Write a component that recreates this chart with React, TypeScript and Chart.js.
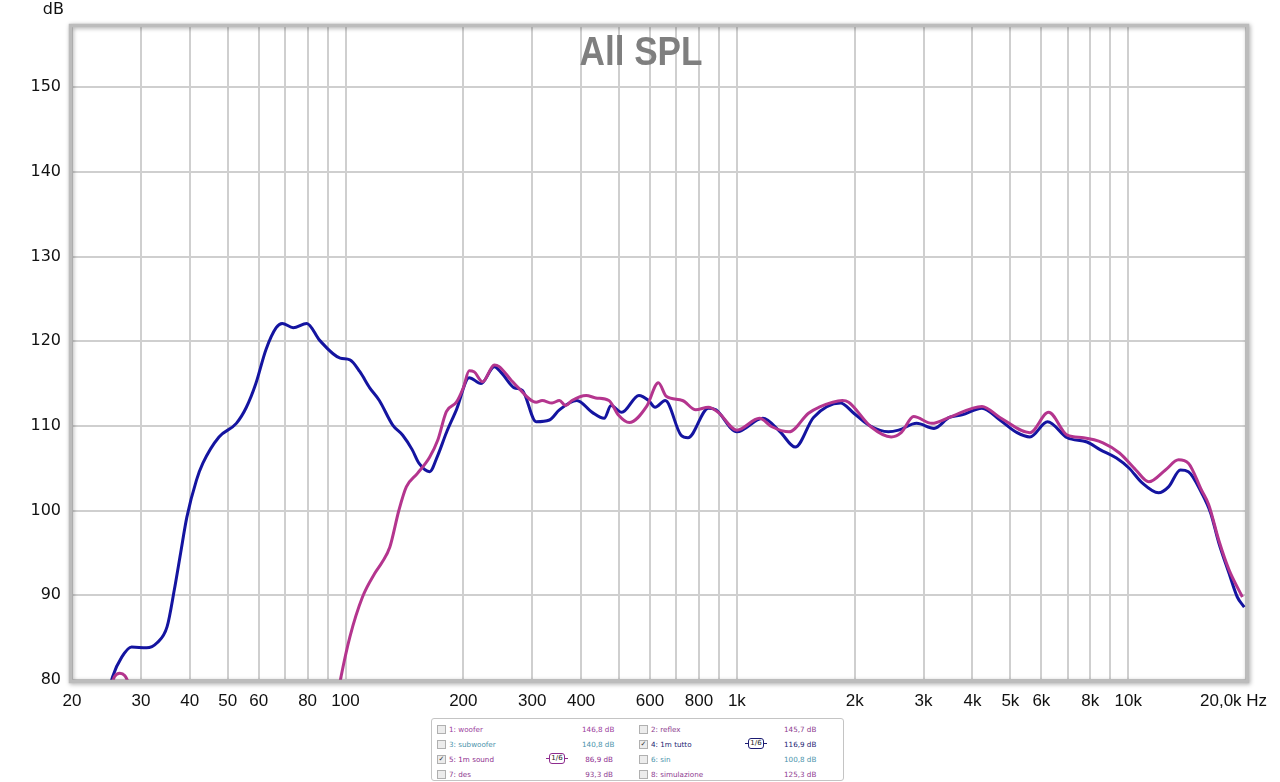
import React, { useEffect, useRef } from "react";
import { Chart, registerables } from "chart.js";

Chart.register(...registerables);

// ---- data ----
const blueFreq = [24.5, 25.4, 26.8, 28.4, 31, 33, 35, 36.5, 37.9, 39.3, 41.6, 43.2, 47.5, 52.6, 55.8, 59, 62.6, 66.5, 68.9, 73.5, 79.6, 85.9, 96.9, 102.6, 108.8, 115.3, 122, 132, 140, 148, 154, 164, 172, 181, 192, 207, 222, 240, 251, 270, 283, 307, 332, 352, 390, 427, 458, 477, 508, 562, 595, 618, 656, 720, 750, 846, 884, 1000, 1165, 1290, 1410, 1570, 1840, 1990, 2170, 2440, 2590, 2880, 3190, 3490, 3760, 4230, 4700, 5200, 5610, 6220, 6990, 7850, 8470, 9330, 10060, 10840, 11950, 12680, 13600, 14250, 15400, 16250, 17040, 18100, 19000, 19800];
const blueDb = [77.5, 80.4, 82.7, 83.9, 83.8, 84.4, 86.3, 90.6, 95, 99.2, 103.6, 105.6, 108.7, 110.3, 112.2, 115, 119, 121.6, 122.1, 121.6, 122.1, 120.1, 118, 117.8, 116.4, 114.5, 113, 110.1, 108.9, 107.2, 105.6, 104.6, 106.5, 109.2, 111.9, 115.7, 115, 117, 116.2, 114.5, 114.2, 110.5, 110.7, 111.9, 113, 111.6, 110.9, 112.4, 111.6, 113.6, 113, 112.2, 113, 108.9, 108.6, 112.1, 111.9, 109.3, 110.9, 109.3, 107.5, 111, 112.7, 111.5, 110.1, 109.3, 109.5, 110.3, 109.7, 111, 111.3, 112.1, 110.7, 109.2, 108.7, 110.5, 108.6, 108.1, 107.2, 106.2, 105, 103.3, 102.1, 102.8, 104.8, 104.6, 102.1, 99.7, 96.2, 92.6, 89.8, 88.6];

const magFreq = [25.0, 25.7, 26.5, 27.3, 27.8, 28.6, 50, 95.5, 97.4, 102.6, 110.5, 118.8, 124, 129.8, 137, 143, 152.7, 164, 172, 181, 192, 200, 207, 213, 224, 240, 247, 265, 275, 307, 318, 337, 352, 365, 379, 412, 436, 471, 498, 531, 588, 630, 660, 726, 785, 846, 896, 1000, 1142, 1229, 1360, 1524, 1620, 1860, 1930, 2200, 2480, 2630, 2830, 3150, 3490, 4230, 4700, 5610, 6260, 6990, 7690, 8620, 9500, 10460, 11290, 12450, 13450, 14250, 15400, 16060, 17040, 18100, 19580];
const magDb = [78.8, 80.4, 80.8, 80.5, 79.8, 78.2, null, 78.2, 80.4, 85.1, 89.8, 92.6, 93.9, 95.7, 100.1, 102.8, 104.4, 106.3, 108.3, 111.7, 112.8, 114.5, 116.5, 116.4, 115.2, 117.2, 117, 115.4, 114.6, 112.8, 113, 112.7, 113, 112.4, 113, 113.6, 113.3, 113, 111.3, 110.4, 112.3, 115.1, 113.5, 113, 111.9, 112.2, 111.6, 109.5, 110.9, 109.9, 109.3, 111.5, 112.2, 113, 112.8, 109.9, 108.7, 109.2, 111.1, 110.3, 111, 112.3, 111, 109.2, 111.6, 108.9, 108.6, 108, 106.8, 104.8, 103.4, 104.8, 106, 105.6, 102.4, 100.7, 96.5, 93, 89.8];

const yTicks = [80, 90, 100, 110, 120, 130, 140, 150];
const xGrid = [20, 30, 40, 50, 60, 70, 80, 90, 100, 200, 300, 400, 500, 600, 700, 800, 900, 1000, 2000, 3000, 4000, 5000, 6000, 7000, 8000, 9000, 10000, 20000];
const xLabelValues = [20, 30, 40, 50, 60, 80, 100, 200, 300, 400, 600, 800, 1000, 2000, 3000, 4000, 5000, 6000, 8000, 10000];
const xLabelTexts = ["20", "30", "40", "50", "60", "80", "100", "200", "300", "400", "600", "800", "1k", "2k", "3k", "4k", "5k", "6k", "8k", "10k"];
const xLastValue = 20000;
const xLastText = "20,0k Hz";

const titleText = "All SPL";
const yUnit = "dB";

const legendNames = ["1: woofer", "2: reflex", "3: subwoofer", "4: 1m tutto", "5: 1m sound", "6: sin", "7: des", "8: simulazione"];
const legendValues = ["146,8 dB", "145,7 dB", "140,8 dB", "116,9 dB", "86,9 dB", "100,8 dB", "93,3 dB", "125,3 dB"];
const legendColors = ["#9a3c9c", "#8c3a8e", "#4a93ab", "#1c1c72", "#8e2c8e", "#4a93ab", "#8e3a90", "#8e3a90"];
const legendChecked = [false, false, false, true, true, false, false, false];
const legendBadge = [false, false, false, true, true, false, false, false];

const BLUE = "#1414a0";
const MAGENTA = "#b4358e";

const toPoints = (fs: number[], ds: (number | null)[]) =>
  fs.map((f, i) => ({ x: f, y: ds[i] === null ? NaN : (ds[i] as number) }));

function Legend() {
  const rows = [0, 1, 2, 3];
  const cell = (i: number) => {
    const col = i % 2;
    const color = legendColors[i];
    return (
      <div key={i} style={{ position: "absolute", left: col === 0 ? 5 : 207, width: 200, height: 14, display: "flex", alignItems: "center" }}>
        <span style={{ width: 7, height: 7, border: "1px solid #b0b0b0", background: "#ececec", display: "inline-block", position: "relative", fontSize: 7, lineHeight: "7px", color: "#333", textAlign: "center" }}>
          {legendChecked[i] ? "\u2713" : ""}
        </span>
        <span style={{ marginLeft: 3, color, whiteSpace: "nowrap" }}>{legendNames[i]}</span>
        {legendBadge[i] ? (
          <span style={{ position: "absolute", left: col === 0 ? 109 : 106, top: 1, display: "flex", alignItems: "center" }}>
            <span style={{ width: 3, height: 1.3, background: color, display: "inline-block" }} />
            <span style={{ border: `1.4px solid ${color}`, borderRadius: 3, height: 9, width: 14, fontSize: 7, lineHeight: "9px", color: "#222", textAlign: "center", display: "inline-block" }}>1/6</span>
            <span style={{ width: 3, height: 1.3, background: color, display: "inline-block" }} />
          </span>
        ) : null}
        <span style={{ position: "absolute", left: 145, color, whiteSpace: "nowrap", textAlign: col === 0 ? "right" : "left", width: col === 0 ? 31 : 40 }}>{legendValues[i]}</span>
      </div>
    );
  };
  return (
    <div style={{ position: "absolute", left: 431, top: 718, width: 411, height: 61, border: "1px solid #c4c4c4", borderRadius: 3, background: "#fff", fontFamily: "'DejaVu Sans', Verdana, sans-serif", fontSize: 7.2 }}>
      {rows.map((r) => (
        <div key={r} style={{ position: "absolute", left: 0, top: 3 + r * 15, width: 411, height: 14 }}>
          {cell(r * 2)}
          {cell(r * 2 + 1)}
        </div>
      ))}
    </div>
  );
}

export default function App() {
  const ref = useRef<HTMLCanvasElement | null>(null);
  useEffect(() => {
    if (!ref.current) return;
    const decor = {
      id: "decor",
      afterDatasetsDraw(chart: any) {
        const { ctx, chartArea } = chart;
        const { left, right, top, bottom } = chartArea;
        ctx.save();
        // frame with shadow
        ctx.shadowColor = "rgba(0,0,0,0.35)";
        ctx.shadowBlur = 4;
        ctx.shadowOffsetX = 1;
        ctx.shadowOffsetY = 1;
        ctx.strokeStyle = "#bcbcbc";
        ctx.lineWidth = 3.5;
        ctx.strokeRect(left - 1.5, top - 1.5, right - left + 3, bottom - top + 3);
        ctx.restore();

        ctx.save();
        // title
        ctx.font = "bold 40px 'Liberation Sans', Arial, sans-serif";
        ctx.fillStyle = "#7f7f7f";
        ctx.textBaseline = "alphabetic";
        ctx.textAlign = "left";
        const w = ctx.measureText(titleText).width;
        const target = 123;
        const cx = (left + right) / 2 - 18;
        ctx.translate(cx - target / 2, 65);
        ctx.scale(target / w, 1);
        ctx.fillText(titleText, 0, 0);
        ctx.restore();

        ctx.save();
        ctx.font = "16px 'DejaVu Sans', Verdana, sans-serif";
        ctx.fillStyle = "#111";
        ctx.textBaseline = "middle";
        ctx.textAlign = "right";
        ctx.fillText(yUnit, left - 8, 10);
        // x labels
        const xs = chart.scales.x;
        ctx.font = "17px 'Liberation Sans', Arial, sans-serif";
        ctx.textAlign = "center";
        xLabelValues.forEach((v, i) => {
          ctx.fillText(xLabelTexts[i], xs.getPixelForValue(v), bottom + 21);
        });
        ctx.textAlign = "left";
        ctx.fillText(xLastText, xs.getPixelForValue(xLastValue) - 46, bottom + 21);
        ctx.restore();
      },
    };

    const chart = new Chart(ref.current, {
      type: "scatter",
      data: {
        datasets: [
          {
            label: "5: 1m sound",
            data: toPoints(magFreq, magDb),
            showLine: true,
            borderColor: MAGENTA,
            borderWidth: 3,
            pointRadius: 0,
            cubicInterpolationMode: "monotone",
            spanGaps: false,
          },
          {
            label: "4: 1m tutto",
            data: toPoints(blueFreq, blueDb),
            showLine: true,
            borderColor: BLUE,
            borderWidth: 3,
            pointRadius: 0,
            cubicInterpolationMode: "monotone",
          },
        ],
      },
      options: {
        animation: false,
        responsive: false,
        maintainAspectRatio: false,
        layout: { padding: { left: 0, top: 27, right: 34, bottom: 0 } },
        plugins: { legend: { display: false }, tooltip: { enabled: false }, title: { display: false } },
        scales: {
          x: {
            type: "logarithmic",
            min: 20,
            max: 20000,
            afterBuildTicks: (s: any) => {
              s.ticks = xGrid.map((v) => ({ value: v }));
            },
            afterFit: (s: any) => {
              s.height = 32;
            },
            grid: { color: "#cfcfcf", lineWidth: 2, drawTicks: false },
            border: { display: false },
            ticks: { display: false },
          },
          y: {
            min: 80,
            max: 157.1,
            afterBuildTicks: (s: any) => {
              s.ticks = yTicks.map((v) => ({ value: v }));
            },
            afterFit: (s: any) => {
              s.width = 72;
            },
            grid: { color: "#cfcfcf", lineWidth: 2, drawTicks: false },
            border: { display: false },
            ticks: {
              padding: 11,
              color: "#111",
              font: { family: "'DejaVu Sans', Verdana, sans-serif", size: 16 },
              callback: (v: any) => String(v),
            },
          },
        },
      },
      plugins: [decor],
    } as any);
    return () => chart.destroy();
  }, []);

  return (
    <div style={{ position: "fixed", left: 0, top: 0, width: 1280, height: 782, background: "#fff" }}>
      <canvas ref={ref} width={1280} height={712} style={{ position: "absolute", left: 0, top: 0 }} />
      <Legend />
    </div>
  );
}
